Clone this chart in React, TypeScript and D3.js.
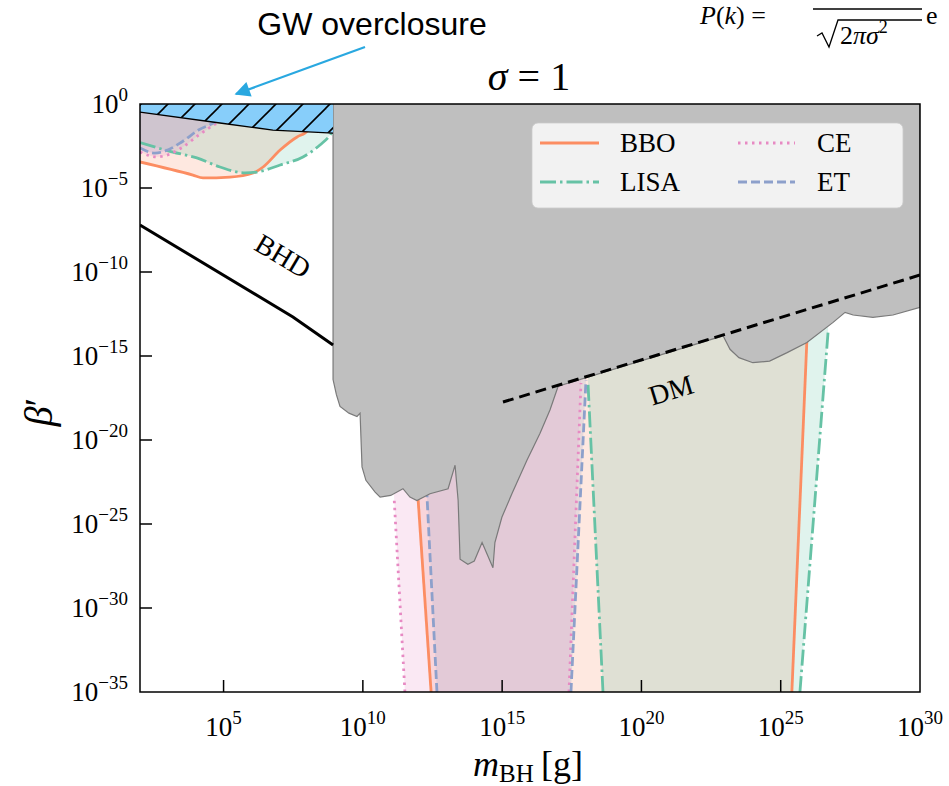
import React from "react";
import * as d3 from "d3";

const W = 949;
const H = 786;
const PL = 140, PR = 920, PT = 104, PB = 692;

// axis ticks (log10 exponents)
const xTickExps = [5, 10, 15, 20, 25, 30];
const yTickExps = [0, -5, -10, -15, -20, -25, -30, -35];

// detector legend info
const detectorNames = ["BBO", "LISA", "CE", "ET"];
const detectorColors = ["#fc8d62", "#66c2a5", "#e78ac3", "#8da0cb"];
const detectorDash = ["none", "16,4,2.5,4", "2.5,4.5", "9,4"];

// data: [log10(m_BH / g), log10(beta')]
const bboLow = [[2, -3.45], [3.9, -4.23], [4.26, -4.4], [5.23, -4.35], [6.06, -4.11], [6.42, -3.75], [7.03, -2.74], [7.64, -1.96], [7.92, -1.73], [8.4, -0.9]];
const lisaLow = [[2, -2.3], [3.18, -2.86], [4.04, -3.21], [4.87, -3.75], [5.77, -4.1], [6.2, -4.05], [7.03, -3.63], [7.85, -3.15], [8.46, -2.44], [8.82, -1.85], [9.1, -1.0]];
const ceLow = [[2, -2.86], [2.61, -3.15], [2.97, -3.04], [3.5, -2.6], [4.15, -1.8], [4.7, -1.2], [5.05, -0.9], [5.4, -0.3]];
const etLow = [[2, -2.62], [2.54, -2.92], [2.9, -2.8], [3.5, -2.26], [4.1, -1.55], [4.8, -0.95], [5.2, -0.3]];

const bboHighLeft = [[12.45, -35], [11.98, -23.45]];
const bboHighRight = [[25.4, -35], [25.94, -14.05]];
const lisaHighLeft = [[18.62, -35], [18.08, -16.55]];
const lisaHighRight = [[25.69, -35], [26.7, -13.57]];
const ceHighLeft = [[11.51, -35], [11.12, -23.39]];
const ceHighRight = [[17.4, -35], [17.83, -16.61]];
const etHighLeft = [[12.66, -35], [12.3, -23.27]];
const etHighRight = [[17.47, -35], [18.01, -16.43]];

const constraintEdge = [
  [8.93, 0.5], [8.93, -16.4], [9.05, -17.3], [9.18, -18.0], [9.5, -18.4], [9.79, -18.6], [9.9, -18.4],
  [9.97, -21.6], [10.11, -22.4], [10.44, -23.1], [10.62, -23.4], [11.0, -23.3], [11.44, -22.9],
  [11.69, -23.4], [11.94, -23.6], [12.41, -23.2], [13.06, -22.9], [13.31, -21.5], [13.42, -23.6],
  [13.49, -27.1], [13.77, -27.4], [14.0, -27.2], [14.28, -26.1], [14.67, -27.6], [14.74, -26.1],
  [14.99, -24.6], [15.35, -23.2], [15.89, -21.2], [16.36, -19.6], [16.72, -18.2], [17.01, -16.8],
  [22.93, -13.8], [23.18, -14.6], [23.5, -15.1], [24.0, -15.4], [24.6, -15.3], [25.23, -14.8],
  [25.94, -14.2], [26.88, -13.0], [27.31, -12.4], [27.6, -12.56], [28.31, -12.7], [29.03, -12.56],
  [30, -12.1], [30, 0.5],
];

const overclosure = [[2, -0.48], [4.87, -1.13], [6.77, -1.55], [8.93, -1.73]];
const bhdLine = [[2, -7.2], [7.49, -12.68], [8.93, -14.35]];
const dmLine = [[15.03, -17.74], [30, -10.18]];

const HIDDEN_TOP = -8;

export default function App() {
  const x = d3.scaleLog().domain([1e2, 1e30]).range([PL, PR]);
  const y = d3.scaleLog().domain([1e-35, 1]).range([PB, PT]);
  const px = (d: number[]) => x(Math.pow(10, d[0]));
  const py = (d: number[]) => y(Math.pow(10, d[1]));
  const line = d3.line<number[]>().x(px).y(py);
  const smooth = d3.line<number[]>().x(px).y(py).curve(d3.curveMonotoneX);

  const lows = [bboLow, lisaLow, ceLow, etLow];
  const highs = [
    [bboHighLeft, bboHighRight],
    [lisaHighLeft, lisaHighRight],
    [ceHighLeft, ceHighRight],
    [etHighLeft, etHighRight],
  ];

  const lowPoly = (pts: number[][]) => {
    const last = pts[pts.length - 1];
    return smooth(pts) + "L" + px([last[0], 1]) + "," + py([last[0], 1]) + "L" + px([pts[0][0] - 1, 1]) + "," + py([0, 1]) + "L" + px([pts[0][0] - 1, pts[0][1]]) + "," + py(pts[0]) + "Z";
  };
  const highPoly = (L: number[][], R: number[][]) =>
    line([L[0], L[1], [L[1][0], HIDDEN_TOP], [R[1][0], HIDDEN_TOP], R[1], R[0]]) + "Z";

  const ocPoly = line([...overclosure, [8.93, 0.5], [2, 0.5]]) + "Z";

  const serif = "'Liberation Serif', 'Times New Roman', serif";

  const dmA = [px(dmLine[0]), py(dmLine[0])];
  const dmB = [px(dmLine[1]), py(dmLine[1])];
  const dmAngle = (Math.atan2(dmB[1] - dmA[1], dmB[0] - dmA[0]) * 180) / Math.PI;
  const bA = [px(bhdLine[0]), py(bhdLine[0])];
  const bB = [px(bhdLine[1]), py(bhdLine[1])];
  const bhdAngle = (Math.atan2(bB[1] - bA[1], bB[0] - bA[0]) * 180) / Math.PI;

  const legendItems = [
    { i: 0, col: 0, row: 0 },
    { i: 1, col: 0, row: 1 },
    { i: 2, col: 1, row: 0 },
    { i: 3, col: 1, row: 1 },
  ];

  return (
    <svg width={W} height={H} style={{ position: "absolute", left: 0, top: 0, background: "#fff" }} fontFamily={serif}>
      <defs>
        <clipPath id="plotClip">
          <rect x={PL} y={PT} width={PR - PL} height={PB - PT} />
        </clipPath>
        <pattern id="hatch" patternUnits="userSpaceOnUse" width={27} height={27} x={2} y={0}>
          <rect width={27} height={27} fill="#87cefa" />
          <line x1={0} y1={27} x2={27} y2={0} stroke="#000" strokeWidth={1.6} />
          <line x1={-27} y1={27} x2={27} y2={-27} stroke="#000" strokeWidth={1.6} />
          <line x1={0} y1={54} x2={54} y2={0} stroke="#000" strokeWidth={1.6} />
        </pattern>
        <marker id="arrowHead" viewBox="0 0 10 10" refX={9} refY={5} markerWidth={8} markerHeight={7} orient="auto" markerUnits="strokeWidth">
          <path d="M0,0 L10,5 L0,10 Z" fill="#29a8e0" />
        </marker>
      </defs>

      <rect x={0} y={0} width={W} height={H} fill="#fff" />

      <g clipPath="url(#plotClip)">
        {/* detector fills */}
        {lows.map((pts, i) => (
          <path key={"lf" + i} d={lowPoly(pts)} fill={detectorColors[i]} fillOpacity={0.2} stroke="none" />
        ))}
        {highs.map((h, i) => (
          <path key={"hf" + i} d={highPoly(h[0], h[1])} fill={detectorColors[i]} fillOpacity={0.2} stroke="none" />
        ))}
        {/* detector lines */}
        {lows.map((pts, i) => (
          <path key={"ll" + i} d={smooth(pts) || ""} fill="none" stroke={detectorColors[i]} strokeWidth={2.8} strokeDasharray={detectorDash[i]} />
        ))}
        {highs.map((h, i) => (
          <g key={"hl" + i}>
            <path d={line(h[0]) || ""} fill="none" stroke={detectorColors[i]} strokeWidth={2.8} strokeDasharray={detectorDash[i]} />
            <path d={line(h[1]) || ""} fill="none" stroke={detectorColors[i]} strokeWidth={2.8} strokeDasharray={detectorDash[i]} />
          </g>
        ))}

        {/* constraints */}
        <path d={line(constraintEdge) + "Z"} fill="#bfbfbf" stroke="#7a7a7a" strokeWidth={1.2} />

        {/* GW overclosure */}
        <path d={ocPoly} fill="url(#hatch)" stroke="none" />
        <path d={line(overclosure) || ""} fill="none" stroke="#000" strokeWidth={1.3} />

        {/* DM and BHD */}
        <path d={line(dmLine) || ""} fill="none" stroke="#000" strokeWidth={3} strokeDasharray="11,6" />
        <path d={line(bhdLine) || ""} fill="none" stroke="#000" strokeWidth={3} />
      </g>

      <text x={283} y={256} fontSize={28} textAnchor="middle" dominantBaseline="central" transform={`rotate(${bhdAngle.toFixed(1)} 283 256)`}>BHD</text>
      <text x={671} y={390} fontSize={28} textAnchor="middle" dominantBaseline="central" transform={`rotate(${dmAngle.toFixed(1)} 671 390)`}>DM</text>

      {/* legend */}
      <rect x={532} y={123} width={371} height={85} rx={6} fill="#fff" fillOpacity={0.8} stroke="#cccccc" strokeOpacity={0.8} />
      {legendItems.map(({ i, col, row }) => {
        const lx0 = col === 0 ? 540 : 738;
        const lx1 = col === 0 ? 599 : 795;
        const tx = col === 0 ? 620 : 817;
        const ly = row === 0 ? 143 : 182;
        return (
          <g key={"lg" + i}>
            <line x1={lx0} x2={lx1} y1={ly} y2={ly} stroke={detectorColors[i]} strokeWidth={2.8} strokeDasharray={detectorDash[i]} />
            <text x={tx} y={ly + 9} fontSize={27}>{detectorNames[i]}</text>
          </g>
        );
      })}

      {/* axes frame */}
      <rect x={PL} y={PT} width={PR - PL} height={PB - PT} fill="none" stroke="#000" strokeWidth={1.5} />
      {xTickExps.map((e) => {
        const xx = x(Math.pow(10, e));
        return (
          <g key={"xt" + e}>
            {e < 30 && <line x1={xx} x2={xx} y1={PB} y2={PB - 12} stroke="#000" strokeWidth={1.5} />}
            <text x={xx} y={736} fontSize={27} textAnchor="middle">
              10<tspan dy={-12} fontSize={19}>{String(e)}</tspan>
            </text>
          </g>
        );
      })}
      {yTickExps.map((e) => {
        const yy = y(Math.pow(10, e));
        return (
          <g key={"yt" + e}>
            {e > -35 && e < 0 && <line x1={PL} x2={PL + 12} y1={yy} y2={yy} stroke="#000" strokeWidth={1.5} />}
            <text x={128} y={yy + 9} fontSize={27} textAnchor="end">
              10<tspan dy={-12} fontSize={19}>{e === 0 ? "0" : "\u2212" + String(-e)}</tspan>
            </text>
          </g>
        );
      })}

      {/* axis labels */}
      <text x={528} y={776} fontSize={36} textAnchor="middle">
        <tspan fontStyle="italic">m</tspan>
        <tspan fontSize={25} dy={6}>BH</tspan>
        <tspan dy={-6}>{"\u2009[g]"}</tspan>
      </text>
      <text x={0} y={0} fontSize={40} textAnchor="middle" transform="translate(52 412) rotate(-90)">
        <tspan fontStyle="italic">β</tspan>′
      </text>

      {/* title */}
      <text x={529} y={90} fontSize={40} textAnchor="middle">
        <tspan fontStyle="italic">σ</tspan>{" = 1"}
      </text>

      {/* annotation */}
      <text x={372} y={35} fontSize={32} textAnchor="middle" fontFamily="'Liberation Sans', Arial, sans-serif">GW overclosure</text>
      <line x1={365} y1={47} x2={236} y2={94} stroke="#29a8e0" strokeWidth={2.2} markerEnd="url(#arrowHead)" />

      {/* formula fragment at top right */}
      <g fontSize={26}>
        <text x={700} y={24}>
          <tspan fontStyle="italic">P</tspan>(<tspan fontStyle="italic">k</tspan>) =
        </text>
        <line x1={813} x2={922} y1={9} y2={9} stroke="#000" strokeWidth={1.3} />
        <path d="M817,36 L822,33 L829,47 L838,20 L922,20" fill="none" stroke="#000" strokeWidth={1.3} />
        <text x={840} y={44}>
          2<tspan fontStyle="italic">πσ</tspan><tspan fontSize={18} dy={-11}>2</tspan>
        </text>
        <text x={926} y={24}>e</text>
      </g>
    </svg>
  );
}
